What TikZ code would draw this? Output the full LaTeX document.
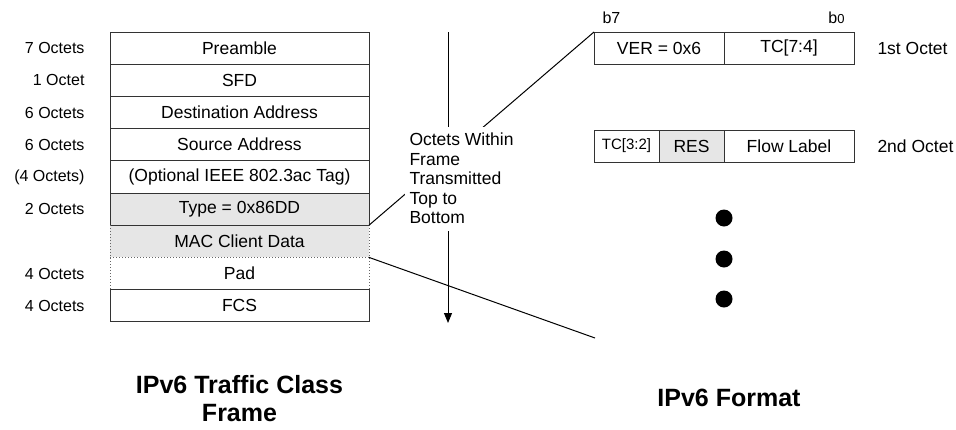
\documentclass[tikz,border=0pt]{standalone}
\usepackage{fontspec}
\setmainfont{Liberation Sans}
\usetikzlibrary{positioning,arrows.meta}
\definecolor{shade}{HTML}{E6E6E6}

\begin{document}
\begin{tikzpicture}[x=1pt,y=-1pt,line width=1pt,
		field/.style={draw=black!80,outer sep=0pt,inner sep=0pt,minimum width=259pt,minimum height=32.2pt,font=\fontsize{17.5}{20}\selectfont},
		cell/.style={field,minimum height=32pt},
		octs/.style={anchor=east,inner sep=0pt,font=\fontsize{16}{19}\selectfont},
		note/.style={inner sep=0pt,font=\fontsize{17.5}{19.5}\selectfont},
		bit/.style={inner sep=0pt,font=\fontsize{16}{19}\selectfont},
		dot/.style={circle,fill,inner sep=0pt,minimum size=17pt},
		title/.style={inner sep=0pt,font=\fontsize{25}{28}\selectfont\bfseries}]
	\useasboundingbox (0,0) rectangle (956,429);

	% frame
	\node[field] (pre) at (239.5,48.1) {Preamble};
	\node[field,below=0pt of pre] (sfd) {SFD};
	\node[field,below=0pt of sfd] (dst) {Destination Address};
	\node[field,below=0pt of dst] (src) {Source Address};
	\node[field,below=0pt of src] (tag) {(Optional IEEE 802.3ac Tag)};
	\node[field,fill=shade,below=0pt of tag] (type) {Type = 0x86DD};
	\node[field,draw=none,fill=shade,below=0pt of type] (mac) {MAC Client Data};
	\node[field,draw=none,below=0pt of mac] (pad) {Pad};
	\node[field,below=0pt of pad] (fcs) {FCS};
	\draw[black!80] (type.south west) -- (type.south east);
	\draw[black!60,dotted] (mac.north west) -- (pad.south west)
		(mac.north east) -- (pad.south east)
		(mac.south west) -- (mac.south east);

	\node[octs,left=25pt of pre] (pre-l) {7 Octets};
	\node[octs,left=25pt of sfd] (sfd-l) {1 Octet};
	\node[octs,left=25pt of dst] (dst-l) {6 Octets};
	\node[octs,left=25pt of src] (src-l) {6 Octets};
	\node[octs,left=25pt of tag] (tag-l) {(4 Octets)};
	\node[octs,left=25pt of type] (type-l) {2 Octets};
	\node[octs,left=25pt of pad] (pad-l) {4 Octets};
	\node[octs,left=25pt of fcs] (fcs-l) {4 Octets};

	% ipv6 header
	\node[cell,minimum width=130pt] (ver) at (659,48) {VER = 0x6};
	\node[cell,minimum width=130pt,right=0pt of ver] (tchi) {TC[7:4]};
	\node[cell,minimum width=65pt,font=\fontsize{15}{18}\selectfont] (tclo) at (626.5,146) {TC[3:2]};
	\node[cell,minimum width=65pt,fill=shade,right=0pt of tclo] (res) {RES};
	\node[cell,minimum width=130pt,right=0pt of res] (flow) {Flow Label};
	\node[note,right=23pt of tchi] (oct1) {1st Octet};
	\node[note,right=23pt of flow] (oct2) {2nd Octet};
	\node[bit,anchor=base west] (b7) at ([xshift=8pt,yshift=9pt]ver.north west) {b7};
	\node[bit,anchor=base east] (b0) at ([xshift=-9pt,yshift=9pt]tchi.north east) {b{\fontsize{13}{13}\selectfont 0}};

	\node[dot] (d1) at (724,218) {};
	\node[dot] (d2) at (724,259) {};
	\node[dot] (d3) at (724,299) {};

	% connectors
	\coordinate (flowtop) at (448,32);
	\coordinate (flowbot) at (448,323);
	\coordinate (fmtend) at (595,338);
	\draw[-{Triangle[width=8pt,length=10pt]}] (flowtop) -- (flowbot);
	\draw (type.south east) -- (ver.north west);
	\draw (mac.south east) -- (fmtend);
	\node[note,anchor=north west,fill=white,align=left,inner xsep=5pt,minimum height=104pt] (dir) at (404,126) {Octets Within\\Frame\\Transmitted\\Top to\\Bottom};

	\node[title,align=center] (ltitle) at (239.5,399) {IPv6 Traffic Class\\Frame};
	\node[title] (rtitle) at (729,398) {IPv6 Format};

\end{tikzpicture}
\end{document}
